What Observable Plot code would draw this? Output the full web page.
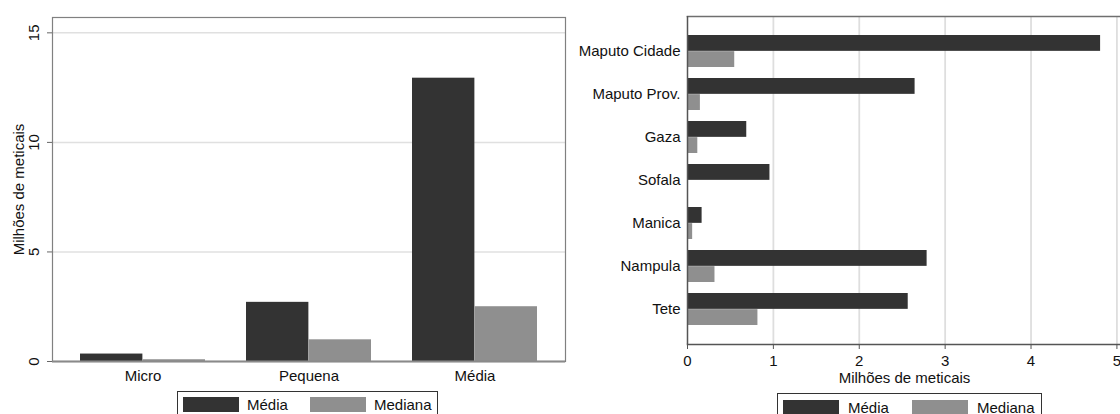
<!DOCTYPE html>
<html>
<head>
<meta charset="utf-8">
<script src="https://cdn.jsdelivr.net/npm/d3@7"></script>
<script src="https://cdn.jsdelivr.net/npm/@observablehq/plot@0.6"></script>
<style>
  html, body { margin: 0; padding: 0; background: #fff; }
  body { width: 1120px; height: 414px; overflow: hidden; position: relative;
         font-family: "Liberation Sans", Arial, sans-serif; color: #111; }
  .abs { position: absolute; }
  .box { border: 1px solid #333; box-sizing: border-box; height: 40px; }
  .sw { height: 15px; }
  .lt { font-size: 15px; line-height: 15px; white-space: nowrap; }
  #left svg, #right svg { max-width: none !important; display: block; }
</style>
</head>
<body>
<div id="left" class="abs" style="left:0;top:0;width:567px;height:390px"></div>
<div id="right" class="abs" style="left:565px;top:0;width:560px;height:390px"></div>

<div class="abs box" style="left:177px;top:391px;width:261px"></div>
<div class="abs sw" style="left:183px;top:397px;width:56px;background:#333333"></div>
<div class="abs lt" style="left:247px;top:397px">Média</div>
<div class="abs sw" style="left:310px;top:397px;width:56px;background:#8f8f8f"></div>
<div class="abs lt" style="left:374px;top:397px">Mediana</div>

<div class="abs box" style="left:777px;top:393px;width:265px"></div>
<div class="abs sw" style="left:783px;top:400px;width:56px;background:#333333"></div>
<div class="abs lt" style="left:848px;top:400px">Média</div>
<div class="abs sw" style="left:912px;top:400px;width:56px;background:#8f8f8f"></div>
<div class="abs lt" style="left:977px;top:400px">Mediana</div>

<script>
// ---- data ----
const series = ["Média", "Mediana"];
const sizeCats = ["Micro", "Pequena", "Média"];
const sizeMedia = [0.34, 2.70, 12.93];
const sizeMediana = [0.08, 0.99, 2.50];
const leftTicks = [0, 5, 10, 15];

const provinces = ["Maputo Cidade", "Maputo Prov.", "Gaza", "Sofala", "Manica", "Nampula", "Tete"];
const provMedia = [4.81, 2.65, 0.69, 0.96, 0.17, 2.79, 2.57];
const provMediana = [0.55, 0.15, 0.12, 0.01, 0.06, 0.32, 0.82];
const rightTicks = [0, 1, 2, 3, 4, 5];

const axisTitle = "Milhões de meticais";
const DARK = "#333333", GRAY = "#8f8f8f";
const FONT = "'Liberation Sans', Arial, sans-serif";

// ---- left chart ----
const leftData = sizeCats.flatMap((c, i) => [
  {cat: c, series: series[0], v: sizeMedia[i]},
  {cat: c, series: series[1], v: sizeMediana[i]}
]);
const LW = 567, LH = 390, LML = 52, LMR = 2, LMT = 17, LMB = 29;
const lPadIn = 0.25, lPadOut = 0.161;
const lStep = (LW - LML - LMR) / (sizeCats.length - lPadIn + 2 * lPadOut);
const lHalf = lStep * (1 - lPadIn) / 2;

const left = Plot.plot({
  width: LW, height: LH,
  marginLeft: LML, marginRight: LMR, marginTop: LMT, marginBottom: LMB,
  style: {fontSize: "15px", fontFamily: FONT, color: "#111", background: "transparent", maxWidth: "none"},
  x: {type: "band", domain: sizeCats, paddingInner: lPadIn, paddingOuter: lPadOut},
  y: {domain: [0, 15.7]},
  marks: [
    Plot.gridY(leftTicks.slice(1), {stroke: "#e0e0e0", strokeOpacity: 1, strokeWidth: 1.5}),
    Plot.barY(leftData.filter(d => d.series === series[0]), {x: "cat", y: "v", fill: DARK, insetRight: lHalf}),
    Plot.barY(leftData.filter(d => d.series === series[1]), {x: "cat", y: "v", fill: GRAY, insetLeft: lHalf}),
    Plot.frame({stroke: "#808080", strokeWidth: 1.2}),
    Plot.ruleY([0], {stroke: "#8a8a8a", strokeWidth: 2}),
    Plot.axisY({ticks: leftTicks, tickSize: 5, tickFormat: () => "", label: null, stroke: "#666"}),
    Plot.text(leftTicks, {y: d => d, text: d => String(d), frameAnchor: "left", dx: -18, rotate: -90, textAnchor: "middle", lineAnchor: "middle", fill: "#111"}),
    Plot.text([axisTitle], {text: d => d, frameAnchor: "left", dx: -33, rotate: -90, textAnchor: "middle", lineAnchor: "middle", fill: "#111"}),
    Plot.axisX({tickSize: 0, tickPadding: 9, label: null, fill: "#111"})
  ]
});
document.getElementById("left").appendChild(left);

// ---- right chart ----
const rightData = provinces.flatMap((p, i) => [
  {prov: p, series: series[0], v: provMedia[i]},
  {prov: p, series: series[1], v: provMediana[i]}
]);
const RW = 560, RH = 390, RML = 122, RMR = 0, RMT = 16, RMB = 46;
const rPadIn = 0.25, rPadOut = 0.433;
const rStep = (RH - RMT - RMB) / (provinces.length - rPadIn + 2 * rPadOut);
const rHalf = rStep * (1 - rPadIn) / 2;

const right = Plot.plot({
  width: RW, height: RH,
  marginLeft: RML, marginRight: RMR, marginTop: RMT, marginBottom: RMB,
  style: {fontSize: "15px", fontFamily: FONT, color: "#111", background: "transparent", overflow: "visible", maxWidth: "none"},
  x: {domain: [0, 5.1]},
  y: {type: "band", domain: provinces, paddingInner: rPadIn, paddingOuter: rPadOut},
  marks: [
    Plot.gridX(rightTicks.slice(1), {stroke: "#dedede", strokeOpacity: 1, strokeWidth: 1.8}),
    Plot.barX(rightData.filter(d => d.series === series[0]), {y: "prov", x: "v", fill: DARK, insetBottom: rHalf}),
    Plot.barX(rightData.filter(d => d.series === series[1]), {y: "prov", x: "v", fill: GRAY, insetTop: rHalf}),
    Plot.frame({anchor: "top", stroke: "#6f6f6f", strokeOpacity: 1, strokeWidth: 1.6}),
    Plot.frame({anchor: "bottom", stroke: "#555", strokeOpacity: 1, strokeWidth: 1.6}),
    Plot.ruleX([0], {stroke: "#555", strokeWidth: 1.5}),
    Plot.axisY({tickSize: 0, tickPadding: 7, label: null, fill: "#111"}),
    Plot.axisX({ticks: rightTicks, tickFormat: d => String(d), tickSize: 5, tickPadding: 6, label: null, stroke: "#555", fill: "#111"}),
    Plot.text([axisTitle], {text: d => d, frameAnchor: "bottom", dy: 34, textAnchor: "middle", lineAnchor: "middle", fill: "#111", dx: -2})
  ]
});
document.getElementById("right").appendChild(right);
</script>
</body>
</html>
